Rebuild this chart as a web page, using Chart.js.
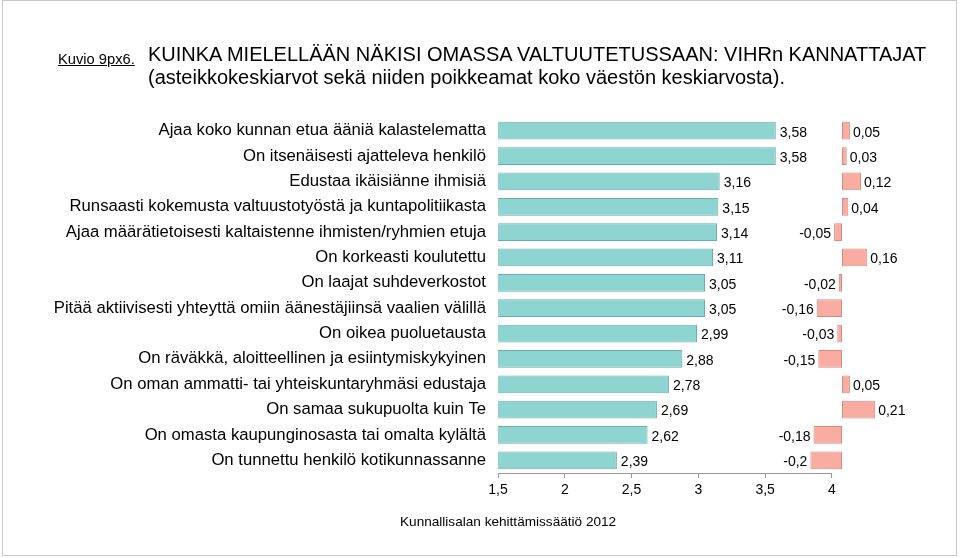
<!DOCTYPE html>
<html>
<head>
<meta charset="utf-8">
<script src="https://cdn.jsdelivr.net/npm/chart.js@4"></script>
<style>
  html, body { margin: 0; padding: 0; background: #fff; }
  body { width: 960px; height: 558px; position: relative; overflow: hidden;
         font-family: "Liberation Sans", Arial, Helvetica, sans-serif; color: #000; }
  #frame { position: absolute; left: 2px; top: 0px; width: 955px; height: 556px;
           border: 1px solid #c8c8c8; box-sizing: border-box; }
  #chart-box { position: absolute; left: 0; top: 0; width: 960px; height: 558px; }
  #kuvio { position: absolute; left: 58px; top: 51px; font-size: 14.7px; text-decoration: underline; }
  #title { position: absolute; left: 148px; top: 43px; font-size: 20px; line-height: 23px; }
  #source { position: absolute; left: 400px; top: 514px; font-size: 13.6px; }
</style>
</head>
<body>
<div id="frame"></div>
<div id="chart-box"><canvas id="chart"></canvas></div>
<div id="kuvio">Kuvio 9px6.</div>
<div id="title">KUINKA MIELELLÄÄN NÄKISI OMASSA VALTUUTETUSSAAN: VIHRn KANNATTAJAT<br>(asteikkokeskiarvot sekä niiden poikkeamat koko väestön keskiarvosta).</div>
<div id="source">Kunnallisalan kehittämissäätiö 2012</div>
<script>
// Chart data
const categories = [
    'Ajaa koko kunnan etua ääniä kalastelematta',
    'On itsenäisesti ajatteleva henkilö',
    'Edustaa ikäisiänne ihmisiä',
    'Runsaasti kokemusta valtuustotyöstä ja kuntapolitiikasta',
    'Ajaa määrätietoisesti kaltaistenne ihmisten/ryhmien etuja',
    'On korkeasti koulutettu',
    'On laajat suhdeverkostot',
    'Pitää aktiivisesti yhteyttä omiin äänestäjiinsä vaalien välillä',
    'On oikea puoluetausta',
    'On räväkkä, aloitteellinen ja esiintymiskykyinen',
    'On oman ammatti- tai yhteiskuntaryhmäsi edustaja',
    'On samaa sukupuolta kuin Te',
    'On omasta kaupunginosasta tai omalta kylältä',
    'On tunnettu henkilö kotikunnassanne'
];
const averages = [3.58, 3.58, 3.16, 3.15, 3.14, 3.11, 3.05, 3.05, 2.99, 2.88, 2.78, 2.69, 2.62, 2.39];
const deviations = [0.05, 0.03, 0.12, 0.04, -0.05, 0.16, -0.02, -0.16, -0.03, -0.15, 0.05, 0.21, -0.18, -0.2];
const xTicks = [1.5, 2, 2.5, 3, 3.5, 4];

const FONT = '"Liberation Sans", Arial, Helvetica, sans-serif';
const PLOT_LEFT = 498;
const PLOT_TOP = 118;
const AXIS_BOTTOM = 473;

function fmt(v) {
    return String(v).replace('.', ',');
}

// Draws the value labels next to each bar and the short axis line
const valueLabels = {
    id: 'valueLabels',
    afterDatasetsDraw(chart) {
        const ctx = chart.ctx;
        ctx.save();
        ctx.font = '14px ' + FONT;
        ctx.fillStyle = '#000';
        ctx.textBaseline = 'middle';

        chart.getDatasetMeta(0).data.forEach((bar, i) => {
            ctx.textAlign = 'left';
            ctx.fillText(fmt(averages[i]), bar.x + 4, bar.y + 2);
        });
        chart.getDatasetMeta(1).data.forEach((bar, i) => {
            const v = deviations[i];
            if (v >= 0) {
                ctx.textAlign = 'left';
                ctx.fillText(fmt(v), bar.x + 3, bar.y + 2);
            } else {
                ctx.textAlign = 'right';
                ctx.fillText(fmt(v), bar.x - 3, bar.y + 2);
            }
        });

        // axis line only between first and last tick
        const xs = chart.scales.x;
        ctx.strokeStyle = '#9a9a9a';
        ctx.lineWidth = 1;
        ctx.beginPath();
        ctx.moveTo(xs.getPixelForValue(xTicks[0]), chart.chartArea.bottom + 0.5);
        ctx.lineTo(xs.getPixelForValue(xTicks[xTicks.length - 1]), chart.chartArea.bottom + 0.5);
        ctx.stroke();
        ctx.restore();
    }
};

function initChart() {
    const ctx = document.getElementById('chart').getContext('2d');
    window.mainChart = new Chart(ctx, {
        type: 'bar',
        data: {
            labels: categories,
            datasets: [{
                label: 'Keskiarvo',
                data: averages,
                xAxisID: 'x',
                backgroundColor: '#8ed5d1',
                borderColor: '#6aaeaa',
                borderWidth: 1,
                borderSkipped: false
            }, {
                label: 'Poikkeama',
                data: deviations,
                xAxisID: 'x2',
                backgroundColor: '#f9aca2',
                borderColor: '#d88a80',
                borderWidth: 1,
                borderSkipped: false
            }]
        },
        options: {
            indexAxis: 'y',
            responsive: true,
            maintainAspectRatio: false,
            animation: false,
            layout: {
                padding: { top: PLOT_TOP, right: 60, bottom: 0, left: 0 }
            },
            datasets: {
                bar: {
                    grouped: false,
                    barPercentage: 0.7,
                    categoryPercentage: 1.0
                }
            },
            plugins: {
                legend: { display: false },
                tooltip: { enabled: false },
                title: { display: false }
            },
            scales: {
                y: {
                    grid: { display: false },
                    border: { display: false },
                    ticks: {
                        color: '#000',
                        padding: 4,
                        font: { family: FONT, size: 16.7 }
                    },
                    afterFit(scale) {
                        scale.width = PLOT_LEFT;
                    }
                },
                x: {
                    min: 1.5,
                    max: 4.51,
                    grid: {
                        drawOnChartArea: false,
                        drawTicks: true,
                        tickLength: 5,
                        color: '#9a9a9a'
                    },
                    border: { display: false },
                    afterBuildTicks(scale) {
                        scale.ticks = xTicks.map(v => ({ value: v }));
                    },
                    ticks: {
                        color: '#000',
                        padding: 4,
                        font: { family: FONT, size: 14 },
                        callback: v => fmt(v)
                    },
                    afterFit(scale) {
                        scale.height = 558 - AXIS_BOTTOM;
                    }
                },
                x2: {
                    display: false,
                    min: -2.177,
                    max: 0.367
                }
            }
        },
        plugins: [valueLabels]
    });
}

document.addEventListener('DOMContentLoaded', initChart);
</script>
</body>
</html>
